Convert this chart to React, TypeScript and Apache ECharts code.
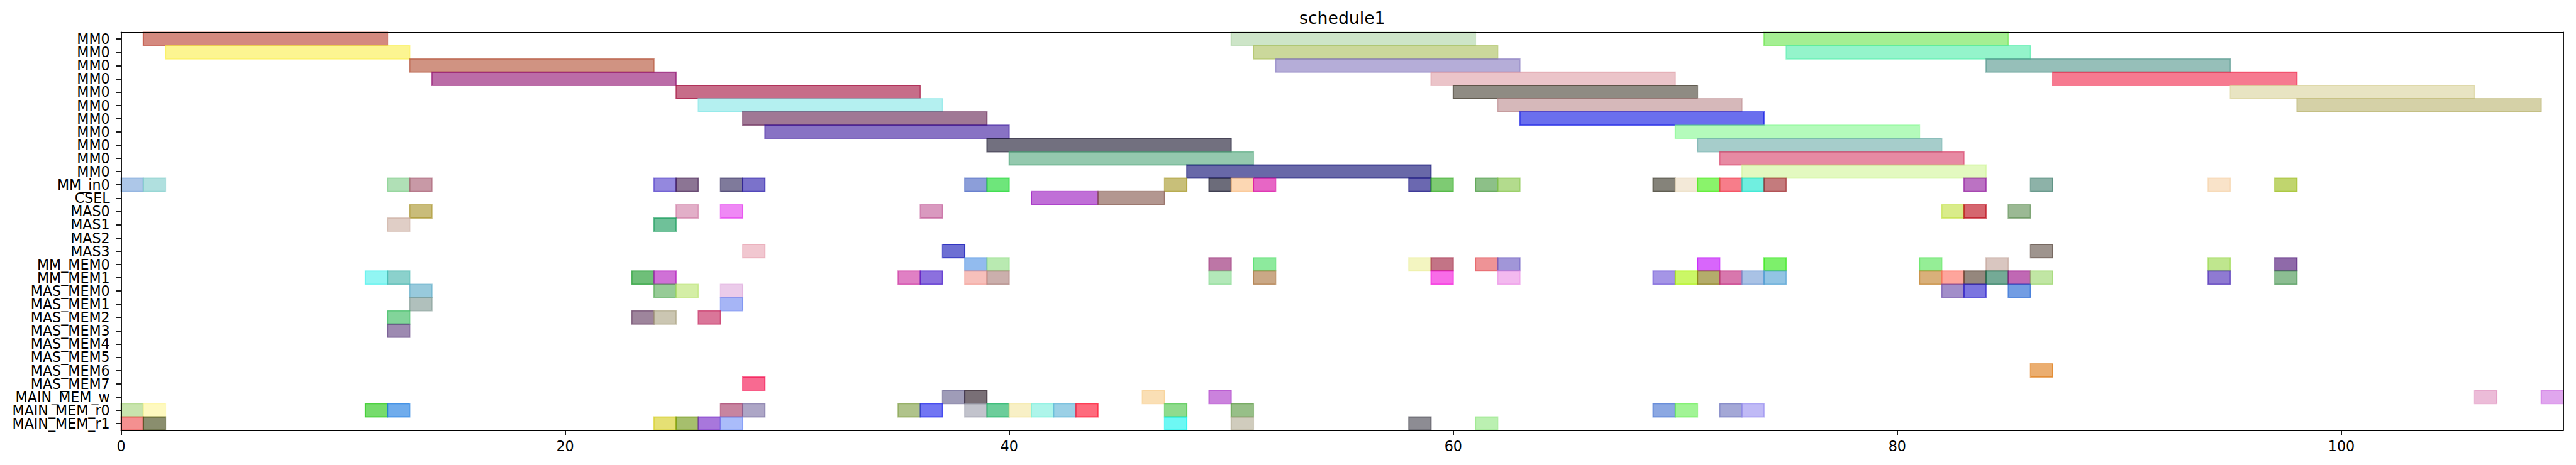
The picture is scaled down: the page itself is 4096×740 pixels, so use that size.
import React, { useEffect, useRef } from 'react';
import * as echarts from 'echarts';

const TITLE = 'schedule1';
const ROW_LABELS = [
  'MM0', 'MM0', 'MM0', 'MM0', 'MM0', 'MM0', 'MM0', 'MM0', 'MM0', 'MM0', 'MM0',
  'MM_in0', 'CSEL', 'MAS0', 'MAS1', 'MAS2', 'MAS3', 'MM_MEM0', 'MM_MEM1',
  'MAS_MEM0', 'MAS_MEM1', 'MAS_MEM2', 'MAS_MEM3', 'MAS_MEM4', 'MAS_MEM5', 'MAS_MEM6', 'MAS_MEM7',
  'MAIN_MEM_w', 'MAIN_MEM_r0', 'MAIN_MEM_r1',
];
const X_TICKS = [0, 20, 40, 60, 80, 100];
const X_MIN = 0;
const X_MAX = 110;

// [rowIndex, start, end]
const MM0_TASKS = [
  [0, 1, 12], [1, 2, 13], [2, 13, 24], [3, 14, 25], [4, 25, 36], [5, 26, 37], [6, 28, 39], [7, 29, 40],
  [8, 39, 50], [9, 40, 51], [10, 48, 59], [0, 50, 61], [1, 51, 62], [2, 52, 63], [3, 59, 70], [4, 60, 71],
  [5, 62, 73], [6, 63, 74], [7, 70, 81], [8, 71, 82], [9, 72, 83], [10, 73, 84], [0, 74, 85], [1, 75, 86],
  [2, 84, 95], [3, 87, 98], [4, 95, 106], [5, 98, 109],
];
const MM0_COLORS = [
  '#d4897f', '#fcf591', '#d09382', '#bb6ca7', '#c76d89', '#b4f0f0', '#a07895', '#8872c4',
  '#72707f', '#94c9ae', '#6868a8', '#cde5c8', '#cbd89b', '#b5add8', '#ebc4c9', '#8f8b83',
  '#d6b8ba', '#6a6fee', '#b4fbbb', '#a6cdcb', '#e78aa3', '#e3f9c0', '#a4ef92', '#94f4cb',
  '#96bfb9', '#f67a90', '#e8e4c2', '#d5d1a7',
];

const MM_IN0_TASKS = [
  [11, 0, 1], [11, 1, 2], [11, 12, 13], [11, 13, 14], [11, 24, 25], [11, 25, 26], [11, 27, 28], [11, 28, 29],
  [11, 38, 39], [11, 39, 40], [11, 47, 48], [11, 49, 50], [11, 50, 51], [11, 51, 52], [11, 58, 59], [11, 59, 60],
  [11, 61, 62], [11, 62, 63], [11, 69, 70], [11, 70, 71], [11, 71, 72], [11, 72, 73], [11, 73, 74], [11, 74, 75],
  [11, 83, 84], [11, 86, 87], [11, 94, 95], [11, 97, 98],
];
const MM_IN0_COLORS = [
  '#adc7e8', '#b0e0df', '#b0e0b6', '#c899a6', '#9488de', '#8c7594', '#7f7a9b', '#7b72cb',
  '#8c9ed9', '#6ee67b', '#c8bf79', '#6c6c7a', '#fcd7b3', '#e765c5', '#6b68b0', '#7ecb73',
  '#8dc088', '#b3db8d', '#85837a', '#f3e9d8', '#8af36b', '#f77d8a', '#70efe0', '#c47b7d',
  '#bb72c3', '#8db2a8', '#f9e3c9', '#c0d56e',
];

const CSEL_MAS_TASKS = [
  [12, 41, 44], [12, 44, 47],
  [13, 13, 14], [13, 25, 26], [13, 27, 28], [13, 36, 37], [13, 82, 83], [13, 83, 84], [13, 85, 86],
  [14, 12, 13], [14, 24, 25],
  [16, 28, 29], [16, 37, 38], [16, 86, 87],
];
const CSEL_MAS_COLORS = [
  '#c06fd7', '#b39790',
  '#c9bc7a', '#e2afc8', '#ef88f5', '#d999bf', '#d9ec8a', '#d5636f', '#9bb994',
  '#e0cec6', '#6fc199',
  '#f1c7d0', '#6d6fd3', '#9e948e',
];

const MM_MEM_TASKS = [
  [17, 38, 39], [17, 39, 40], [17, 49, 50], [17, 51, 52], [17, 58, 59], [17, 59, 60], [17, 61, 62],
  [17, 62, 63], [17, 71, 72], [17, 74, 75], [17, 81, 82], [17, 84, 85], [17, 94, 95], [17, 97, 98],
  [18, 11, 12], [18, 12, 13], [18, 23, 24], [18, 24, 25], [18, 35, 36], [18, 36, 37], [18, 38, 39],
  [18, 39, 40], [18, 49, 50], [18, 51, 52], [18, 59, 60], [18, 62, 63], [18, 69, 70], [18, 70, 71],
  [18, 71, 72], [18, 72, 73], [18, 73, 74], [18, 74, 75], [18, 81, 82], [18, 82, 83], [18, 83, 84],
  [18, 84, 85], [18, 85, 86], [18, 86, 87], [18, 94, 95], [18, 97, 98],
];
const MM_MEM_COLORS = [
  '#92bbee', '#b9eab1', '#bd76a6', '#8dea9d', '#f3f5c1', '#c37486', '#ee9396',
  '#a196d8', '#d866fb', '#7df06b', '#95ee96', '#d9c6c0', '#bfe68e', '#8f6aa9',
  '#91f6f3', '#8bd1cc', '#6fbf79', '#cf71d6', '#e080c4', '#8c70de', '#f7c0bb',
  '#cbafac', '#b3e8b9', '#caa886', '#f86ce8', '#f3b9ef', '#a595e6', '#cbf75d',
  '#b4ac6b', '#d877ad', '#a9c2e5', '#92c4e4', '#d9b07a', '#fea59c', '#95877d',
  '#74aa96', '#c068b4', '#c1e6a4', '#8f7ad2', '#8cbd92',
];

const MAS_MEM_TASKS = [
  [19, 13, 14], [19, 24, 25], [19, 25, 26], [19, 27, 28], [19, 82, 83], [19, 83, 84], [19, 85, 86],
  [20, 13, 14], [20, 27, 28],
  [21, 12, 13], [21, 23, 24], [21, 24, 25], [21, 26, 27],
  [22, 12, 13],
  [25, 86, 87],
  [26, 28, 29],
];
const MAS_MEM_COLORS = [
  '#98cadc', '#96cb96', '#d4eea6', '#ebcbea', '#a28ec9', '#7b75e0', '#729de3',
  '#b0c0bc', '#a6b5f6',
  '#82d49a', '#9e859c', '#cbc6b2', '#da7699',
  '#9d8ab1',
  '#ebae70',
  '#f86a91',
];

const MAIN_MEM_TASKS = [
  [27, 37, 38], [27, 38, 39], [27, 46, 47], [27, 49, 50], [27, 106, 107], [27, 109, 110],
  [28, 0, 1], [28, 1, 2], [28, 11, 12], [28, 12, 13], [28, 27, 28], [28, 28, 29], [28, 35, 36],
  [28, 36, 37], [28, 38, 39], [28, 39, 40], [28, 40, 41], [28, 41, 42], [28, 42, 43], [28, 43, 44],
  [28, 47, 48], [28, 50, 51], [28, 69, 70], [28, 70, 71], [28, 72, 73], [28, 73, 74],
  [29, 0, 1], [29, 1, 2], [29, 24, 25], [29, 25, 26], [29, 26, 27], [29, 27, 28], [29, 47, 48],
  [29, 50, 51], [29, 58, 59], [29, 61, 62],
];
const MAIN_MEM_COLORS = [
  '#9f9cb8', '#796f76', '#fadfb5', '#cb82dd', '#ecbcd8', '#e0a6ee',
  '#c8e4ad', '#fef9c0', '#76dc6c', '#70acec', '#c784a0', '#ada6c6', '#b0c38b',
  '#7276f3', '#c2c3cc', '#6ccd9a', '#f8f0c6', '#aef5ea', '#9bd0e6', '#fe6b7d',
  '#8fdb8d', '#97bf88', '#8ca8e2', '#a1f495', '#a4a8d6', '#c0baf6',
  '#f49090', '#8a8e6e', '#e5e074', '#a6bf6d', '#a877dc', '#aabcfa', '#6df8f4',
  '#d0ccbd', '#8d8c93', '#bbf0b1',
];

const ALPHA = 0.6;
const FONT = '"DejaVu Sans", "Liberation Sans", sans-serif';

function baseRgba(hex: string, alpha: number) {
  const v = hex.replace('#', '');
  const c = [0, 2, 4].map((i) => parseInt(v.slice(i, i + 2), 16));
  const b = c.map((x) => Math.max(0, Math.min(255, Math.round((x - (1 - ALPHA) * 255) / ALPHA))));
  return `rgba(${b[0]},${b[1]},${b[2]},${alpha})`;
}

export default function App() {
  const ref = useRef<HTMLDivElement>(null);
  useEffect(() => {
    if (!ref.current) return;
    const chart = echarts.init(ref.current, null, { renderer: 'svg' });
    const groups: [number[][], string[]][] = [
      [MM0_TASKS, MM0_COLORS],
      [MM_IN0_TASKS, MM_IN0_COLORS],
      [CSEL_MAS_TASKS, CSEL_MAS_COLORS],
      [MM_MEM_TASKS, MM_MEM_COLORS],
      [MAS_MEM_TASKS, MAS_MEM_COLORS],
      [MAIN_MEM_TASKS, MAIN_MEM_COLORS],
    ];
    const tasks: number[][] = [];
    const colors: string[] = [];
    groups.forEach(([t, c]) => {
      t.forEach((d, i) => {
        tasks.push(d);
        colors.push(c[i]);
      });
    });

    const axisLineStyle = { color: '#000', width: 1.8 };
    chart.setOption({
      animation: false,
      backgroundColor: '#fff',
      grid: {
        left: 192.5,
        right: 20,
        top: 51.5,
        bottom: 55.5,
        containLabel: false,
        outerBoundsMode: 'none',
      },
      graphic: [
        {
          type: 'text',
          x: 2134.3,
          y: 28.6,
          z: 100,
          style: {
            text: TITLE,
            fontSize: 26.7,
            fontFamily: FONT,
            fill: '#000',
            align: 'center',
            verticalAlign: 'middle',
          },
        },
      ],
      xAxis: [
        {
          type: 'value',
          min: X_MIN,
          max: X_MAX,
          interval: 20,
          position: 'bottom',
          z: 10,
          axisLine: { show: true, onZero: false, lineStyle: axisLineStyle },
          axisTick: { show: true, length: 7.8, lineStyle: axisLineStyle, customValues: X_TICKS },
          axisLabel: {
            show: true,
            customValues: X_TICKS,
            fontSize: 22.2,
            fontFamily: FONT,
            color: '#000',
            margin: 14,
          },
          splitLine: { show: false },
        },
        {
          type: 'value',
          min: X_MIN,
          max: X_MAX,
          position: 'top',
          z: 10,
          axisLine: { show: true, onZero: false, lineStyle: axisLineStyle },
          axisTick: { show: false },
          axisLabel: { show: false },
          splitLine: { show: false },
        },
      ],
      yAxis: [
        {
          type: 'category',
          data: ROW_LABELS,
          inverse: true,
          position: 'left',
          z: 10,
          axisLine: { show: true, onZero: false, lineStyle: axisLineStyle },
          axisTick: { show: true, alignWithLabel: true, interval: 0, length: 7.8, lineStyle: axisLineStyle },
          axisLabel: {
            show: true,
            interval: 0,
            fontSize: 22.2,
            fontFamily: FONT,
            color: '#000',
            margin: 17.8,
          },
          splitLine: { show: false },
        },
        {
          type: 'category',
          data: ROW_LABELS,
          inverse: true,
          position: 'right',
          z: 10,
          axisLine: { show: true, onZero: false, lineStyle: axisLineStyle },
          axisTick: { show: false },
          axisLabel: { show: false },
          splitLine: { show: false },
        },
      ],
      series: [
        {
          type: 'custom',
          xAxisIndex: 0,
          yAxisIndex: 0,
          encode: { x: [1, 2], y: 0 },
          data: tasks,
          renderItem: (params: any, api: any) => {
            const row = api.value(0);
            const s = api.value(1);
            const e = api.value(2);
            const p0 = api.coord([s, row]);
            const p1 = api.coord([e, row]);
            const h = api.size([0, 1])[1];
            const col = colors[params.dataIndex];
            return {
              type: 'rect',
              shape: { x: p0[0], y: p0[1] - h / 2, width: p1[0] - p0[0], height: h },
              style: {
                fill: baseRgba(col, ALPHA),
                stroke: baseRgba(col, ALPHA),
                lineWidth: 2,
              },
            };
          },
        },
      ],
    });
    return () => chart.dispose();
  }, []);
  return (
    <div
      ref={ref}
      style={{ position: 'fixed', left: 0, top: 0, width: 4096, height: 740, background: '#fff' }}
    />
  );
}
